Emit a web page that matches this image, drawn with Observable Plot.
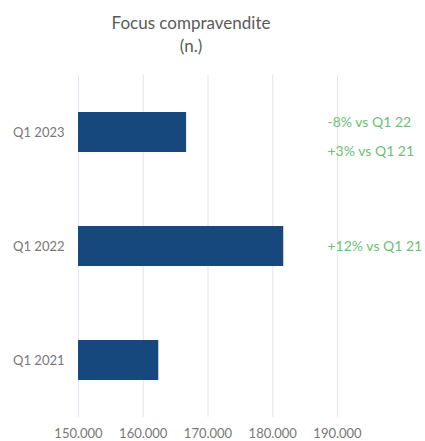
<!DOCTYPE html>
<html>
<head>
<meta charset="utf-8">
<script src="https://cdn.jsdelivr.net/npm/d3@7"></script>
<script src="https://cdn.jsdelivr.net/npm/@observablehq/plot@0.6"></script>
<style>
  body { margin: 0; background: #fff; font-family: Lato, "Open Sans", sans-serif; }
  #title { width: 382px; height: 60px; text-align: center; color: #5a5a5a; font-size: 17px; line-height: 23px; padding-top: 11px; box-sizing: border-box; }
</style>
</head>
<body>
<div id="title">Focus compravendite<br>(n.)</div>
<div id="chart"></div>
<script>
const periods = ["Q1 2023", "Q1 2022", "Q1 2021"];
const values = [166700, 181700, 162400];
const xTicks = [150000, 160000, 170000, 180000, 190000];
const notePeriods = ["Q1 2023", "Q1 2022"];
const notes = ["-8% vs Q1 22\n+3% vs Q1 21", "+12% vs Q1 21"];

const bars = periods.map((p, i) => ({period: p, value: values[i]}));
const noteData = notePeriods.map((p, i) => ({period: p, text: notes[i]}));
const itFmt = d3.formatLocale({decimal: ",", thousands: ".", grouping: [3], currency: ["", "€"]}).format(",d");
const axisStart = xTicks[0];

const chart = Plot.plot({
  width: 425,
  height: 381,
  marginLeft: 78,
  marginRight: 88,
  marginTop: 15,
  marginBottom: 24,
  style: {fontFamily: "Lato, 'Open Sans', sans-serif", fontSize: "13px", color: "#777", background: "#fff"},
  x: {domain: [xTicks[0], xTicks[xTicks.length - 1]], ticks: xTicks, tickFormat: itFmt, label: null},
  y: {domain: periods, paddingInner: 0.65, paddingOuter: 0.325, label: null},
  marks: [
    Plot.ruleX(xTicks, {x: d => d, stroke: "#dfe5ec", strokeWidth: 1}),
    Plot.axisX({ticks: xTicks, tickFormat: itFmt, tickSize: 0, tickPadding: 11, fill: "#777", label: null, fontSize: 13}),
    Plot.axisY({tickSize: 0, tickPadding: 14, fill: "#777", label: null, fontSize: 13}),
    Plot.barX(bars, {y: "period", x1: () => axisStart, x2: "value", fill: "#16477d"}),
    Plot.text(noteData.filter(d => d.period === notePeriods[0]), {y: "period", text: "text", frameAnchor: "right", textAnchor: "start", dx: -10, dy: 0, lineHeight: 2.07, fill: "#6cc072", fontSize: 14}),
    Plot.text(noteData.filter(d => d.period !== notePeriods[0]), {y: "period", text: "text", frameAnchor: "right", textAnchor: "start", dx: -10, dy: 0, fill: "#6cc072", fontSize: 14})
  ]
});
document.getElementById("chart").appendChild(chart);
</script>
</body>
</html>
